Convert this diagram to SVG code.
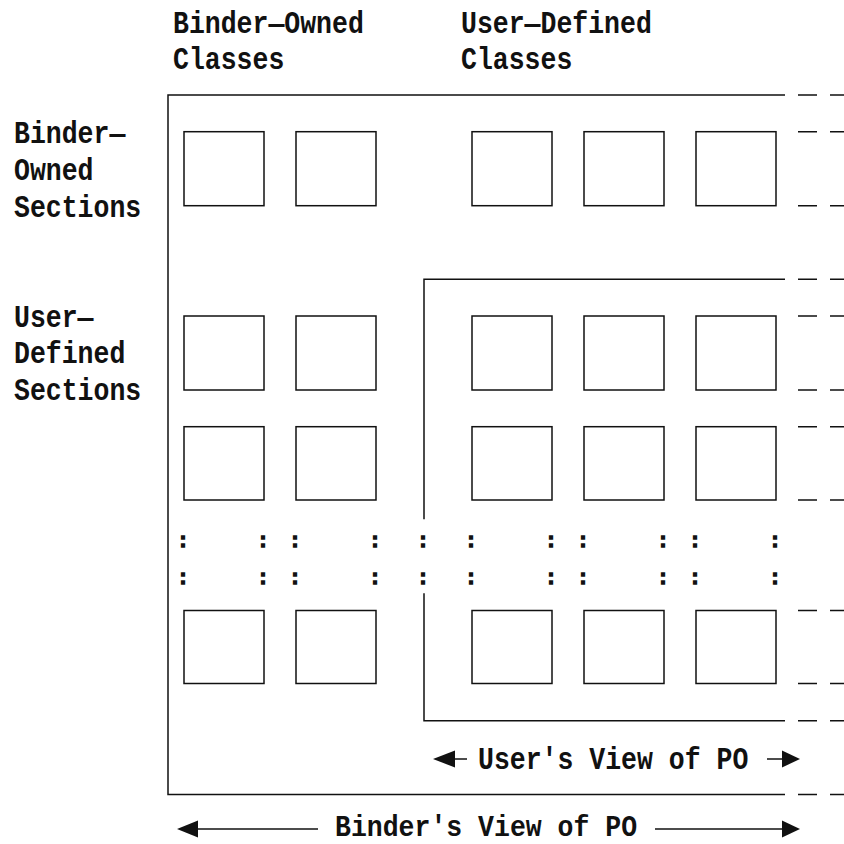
<svg xmlns="http://www.w3.org/2000/svg" width="844" height="844" viewBox="0 0 844 844">
<style>
.t{font-family:"Liberation Mono","DejaVu Sans Mono",monospace;font-weight:bold;font-size:26.5px;fill:#111;}
.c{font-family:"Liberation Mono","DejaVu Sans Mono",monospace;font-weight:bold;font-size:20px;fill:#111;stroke:#111;stroke-width:1.4;text-anchor:middle;}
.ln{stroke:#111;stroke-width:1.5;fill:none;}
.bx{stroke:#111;stroke-width:1.5;fill:none;}
.ds{stroke:#111;stroke-width:1.5;fill:none;stroke-dasharray:19 13;}
.ah{fill:#111;stroke:none;}
</style>
<rect width="844" height="844" fill="#fff"/>
<g id="labels">
<text class="t" transform="translate(173,33) scale(1,1.2)">Binder—Owned</text>
<text class="t" transform="translate(173,69) scale(1,1.2)">Classes</text>
<text class="t" transform="translate(461,33) scale(1,1.2)">User—Defined</text>
<text class="t" transform="translate(461,69) scale(1,1.2)">Classes</text>
<text class="t" transform="translate(14,143) scale(1,1.2)">Binder—</text>
<text class="t" transform="translate(14,180) scale(1,1.2)">Owned</text>
<text class="t" transform="translate(14,216.5) scale(1,1.2)">Sections</text>
<text class="t" transform="translate(14,326.5) scale(1,1.2)">User—</text>
<text class="t" transform="translate(14,363) scale(1,1.2)">Defined</text>
<text class="t" transform="translate(14,400) scale(1,1.2)">Sections</text>
<text class="t" transform="translate(478,769) scale(1,1.2)">User's View of PO</text>
<text class="t" transform="translate(335,835.5) scale(1,1.08)">Binder's View of PO</text>
</g>
<g id="binder-view-frame">
<path class="ln" d="M785 95 H168 V794.5 H785"/>
</g>
<g id="user-view-frame">
<path class="ln" d="M785 279.3 H424 V519.3 M424 593.3 V720.7 H785"/>
</g>
<g id="frame-continuation">
<line class="ds" x1="798" y1="95" x2="852" y2="95"/>
<line class="ds" x1="798" y1="131.7" x2="852" y2="131.7"/>
<line class="ds" x1="798" y1="205.7" x2="852" y2="205.7"/>
<line class="ds" x1="798" y1="279.3" x2="852" y2="279.3"/>
<line class="ds" x1="798" y1="316" x2="852" y2="316"/>
<line class="ds" x1="798" y1="390" x2="852" y2="390"/>
<line class="ds" x1="798" y1="426.7" x2="852" y2="426.7"/>
<line class="ds" x1="798" y1="500" x2="852" y2="500"/>
<line class="ds" x1="798" y1="610.5" x2="852" y2="610.5"/>
<line class="ds" x1="798" y1="683.5" x2="852" y2="683.5"/>
<line class="ds" x1="798" y1="720.7" x2="852" y2="720.7"/>
<line class="ds" x1="798" y1="794.5" x2="852" y2="794.5"/>
</g>
<g id="row-binder-owned">
<rect class="bx" x="184" y="131.7" width="80" height="74"/>
<rect class="bx" x="296" y="131.7" width="80" height="74"/>
<rect class="bx" x="472" y="131.7" width="80" height="74"/>
<rect class="bx" x="584" y="131.7" width="80" height="74"/>
<rect class="bx" x="696" y="131.7" width="80" height="74"/>
</g>
<g id="row-user-1">
<rect class="bx" x="184" y="316" width="80" height="74"/>
<rect class="bx" x="296" y="316" width="80" height="74"/>
<rect class="bx" x="472" y="316" width="80" height="74"/>
<rect class="bx" x="584" y="316" width="80" height="74"/>
<rect class="bx" x="696" y="316" width="80" height="74"/>
</g>
<g id="row-user-2">
<rect class="bx" x="184" y="426.7" width="80" height="73.3"/>
<rect class="bx" x="296" y="426.7" width="80" height="73.3"/>
<rect class="bx" x="472" y="426.7" width="80" height="73.3"/>
<rect class="bx" x="584" y="426.7" width="80" height="73.3"/>
<rect class="bx" x="696" y="426.7" width="80" height="73.3"/>
</g>
<g id="row-user-n">
<rect class="bx" x="184" y="610.5" width="80" height="73"/>
<rect class="bx" x="296" y="610.5" width="80" height="73"/>
<rect class="bx" x="472" y="610.5" width="80" height="73"/>
<rect class="bx" x="584" y="610.5" width="80" height="73"/>
<rect class="bx" x="696" y="610.5" width="80" height="73"/>
</g>
<g id="ellipsis">
<text class="c" x="183" y="547">:</text><text class="c" x="263" y="547">:</text><text class="c" x="295" y="547">:</text><text class="c" x="375" y="547">:</text><text class="c" x="423" y="547">:</text><text class="c" x="471" y="547">:</text><text class="c" x="551" y="547">:</text><text class="c" x="583" y="547">:</text><text class="c" x="663" y="547">:</text><text class="c" x="695" y="547">:</text><text class="c" x="775" y="547">:</text>
<text class="c" x="183" y="584">:</text><text class="c" x="263" y="584">:</text><text class="c" x="295" y="584">:</text><text class="c" x="375" y="584">:</text><text class="c" x="423" y="584">:</text><text class="c" x="471" y="584">:</text><text class="c" x="551" y="584">:</text><text class="c" x="583" y="584">:</text><text class="c" x="663" y="584">:</text><text class="c" x="695" y="584">:</text><text class="c" x="775" y="584">:</text>
</g>
<g id="connectors">
<line class="ln" x1="452" y1="759" x2="467" y2="759"/>
<polygon class="ah" points="433,759 455,750.5 455,767.5"/>
<line class="ln" x1="767" y1="759" x2="786" y2="759"/>
<polygon class="ah" points="800,759 782,750.5 782,767.5"/>
<line class="ln" x1="194" y1="829" x2="318" y2="829"/>
<polygon class="ah" points="177,829 198,820.5 198,837.5"/>
<line class="ln" x1="655" y1="829" x2="786" y2="829"/>
<polygon class="ah" points="800,829 782,820.5 782,837.5"/>
</g>
</svg>
